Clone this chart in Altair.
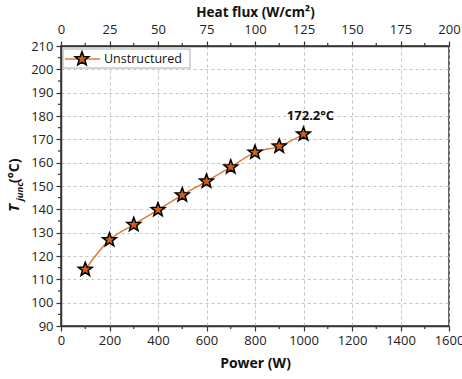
import altair as alt
import pandas as pd

# Data
power = [100, 200, 300, 400, 500, 600, 700, 800, 900, 1000]
tjunc = [114.2, 126.9, 133.4, 139.8, 146.1, 152.0, 158.1, 164.4, 167.0, 172.2]
series = ["Unstructured"] * len(power)
annotation = ["", "", "", "", "", "", "", "", "", "172.2°C"]

power_ticks = [0, 200, 400, 600, 800, 1000, 1200, 1400, 1600]
power_minor = [100, 300, 500, 700, 900, 1100, 1300, 1500]
temp_ticks = [90, 100, 110, 120, 130, 140, 150, 160, 170, 180, 190, 200, 210]
temp_minor = [95, 105, 115, 125, 135, 145, 155, 165, 175, 185, 195, 205]
heat_flux_ticks = [0, 25, 50, 75, 100, 125, 150, 175, 200]
heat_flux_minor = [12.5, 37.5, 62.5, 87.5, 112.5, 137.5, 162.5, 187.5]

df = pd.DataFrame({"power": power, "tjunc": tjunc, "series": series, "note": annotation})

FONT = "Open Sans"
LINE = "#e07b39"
FILL = "#cf5f17"
AX = "#333333"
STAR = ("M0,-1 L0.247,-0.34 L0.951,-0.309 L0.399,0.13 L0.588,0.809 L0,0.42 "
        "L-0.588,0.809 L-0.399,0.13 L-0.951,-0.309 L-0.247,-0.34 Z")

xs = alt.Scale(domain=[0, 1600], nice=False, zero=False)
ys = alt.Scale(domain=[90, 210], nice=False, zero=False)
hs = alt.Scale(domain=[0, 200], nice=False, zero=False)

x_axis = alt.Axis(title="Power (W)", format="d", values=power_ticks, tickSize=5, grid=True,
                  labelPadding=3, titlePadding=9, titleFontSize=14,
                  labelOverlap=False, labelFlush=False)
y_axis = alt.Axis(title=None, values=temp_ticks, tickSize=5, grid=True, labelPadding=3,
                  labelOverlap=False, labelFlush=False, labelBound=False)
h_axis = alt.Axis(orient="top", title="Heat flux (W/cm²)", values=heat_flux_ticks,
                  tickSize=5, grid=False, labelPadding=5, titlePadding=4,
                  titleFontSize=13.5, labelOverlap=False, labelFlush=False)

X = alt.X("power:Q", scale=xs, axis=x_axis)
Y = alt.Y("tjunc:Q", scale=ys, axis=y_axis)
H = alt.X("hf:Q", scale=hs, axis=h_axis)

line = alt.Chart(df).mark_line(color=LINE, strokeWidth=1.5, interpolate="monotone").encode(x=X, y=Y)
points = alt.Chart(df).mark_point(
    shape=STAR, size=210, filled=True, fill=FILL, stroke="black", strokeWidth=1.5, opacity=1
).encode(x=X, y=Y)
label = alt.Chart(df).mark_text(
    font=FONT, fontWeight="bold", fontSize=13, dx=7, dy=-18, color="#111"
).encode(x=X, y=Y, text="note:N")

minor_x = alt.Chart(pd.DataFrame({"power": power_minor})).mark_rule(color=AX, strokeWidth=1.2).encode(
    x=X, y=alt.value(280), y2=alt.value(283)
)
minor_y = alt.Chart(pd.DataFrame({"tjunc": temp_minor})).mark_rule(color=AX, strokeWidth=1.2).encode(
    y=Y, x=alt.value(-3), x2=alt.value(0)
)

one = alt.Data(values=[{"a": 1}])
leg_box = alt.Chart(one).mark_rect(fill="white", stroke="#aaaaaa", strokeWidth=1).encode(
    x=alt.value(2), x2=alt.value(129), y=alt.value(3), y2=alt.value(22)
)
leg_line = alt.Chart(one).mark_rule(color=LINE, strokeWidth=1.5).encode(
    x=alt.value(4), x2=alt.value(39), y=alt.value(13)
)
leg_star = alt.Chart(one).mark_point(
    shape=STAR, size=210, filled=True, fill=FILL, stroke="black", strokeWidth=1.5, opacity=1
).encode(x=alt.value(21), y=alt.value(13))
leg_text = alt.Chart(one).mark_text(
    font=FONT, fontSize=12.5, align="left", baseline="middle", color="#111"
).encode(x=alt.value(43), y=alt.value(13), text=alt.value("Unstructured"))

yt1 = alt.Chart(one).mark_text(
    font=FONT, fontSize=15, fontWeight="bold", fontStyle="italic", angle=270,
    align="left", baseline="alphabetic", color="#111"
).encode(x=alt.value(-42), y=alt.value(166), text=alt.value("T"))
yt2 = alt.Chart(one).mark_text(
    font=FONT, fontSize=9.5, fontWeight="bold", fontStyle="italic", angle=270,
    align="left", baseline="alphabetic", color="#111"
).encode(x=alt.value(-38), y=alt.value(155), text=alt.value("junc"))
yt3 = alt.Chart(one).mark_text(
    font=FONT, fontSize=14, fontWeight="bold", angle=270,
    align="left", baseline="alphabetic", color="#111"
).encode(x=alt.value(-42), y=alt.value(137), text=alt.value("(°C)"))

main = alt.layer(
    line, minor_x, minor_y, points, label, leg_box, leg_line, leg_star, leg_text, yt1, yt2, yt3
)

top_major = alt.Chart(pd.DataFrame({"hf": heat_flux_ticks})).mark_point(opacity=0).encode(x=H)
top_minor = alt.Chart(pd.DataFrame({"hf": heat_flux_minor})).mark_rule(color=AX, strokeWidth=1.2).encode(
    x=H, y=alt.value(-3), y2=alt.value(0)
)
top = alt.layer(top_major, top_minor)

chart = alt.layer(main, top).resolve_scale(x="independent").properties(
    width=388, height=280,
    background="white",
    autosize=alt.AutoSizeParams(type="none"),
    padding={"left": 61, "top": 46, "right": 13, "bottom": 53},
).configure_view(
    stroke=AX, strokeWidth=1.5
).configure_axis(
    domainColor=AX, domainWidth=1.5, tickColor=AX, tickWidth=1.2,
    labelFont=FONT, labelFontSize=13, labelColor="#222",
    labelOverlap=False, labelFlush=False,
    titleFont=FONT, titleFontSize=14.5, titleFontWeight="bold", titleColor="#111",
    gridColor="#c4c4c4", gridDash=[3, 3], gridWidth=1,
)

chart.save("out.html", embed_options={"renderer": "svg", "actions": False})
